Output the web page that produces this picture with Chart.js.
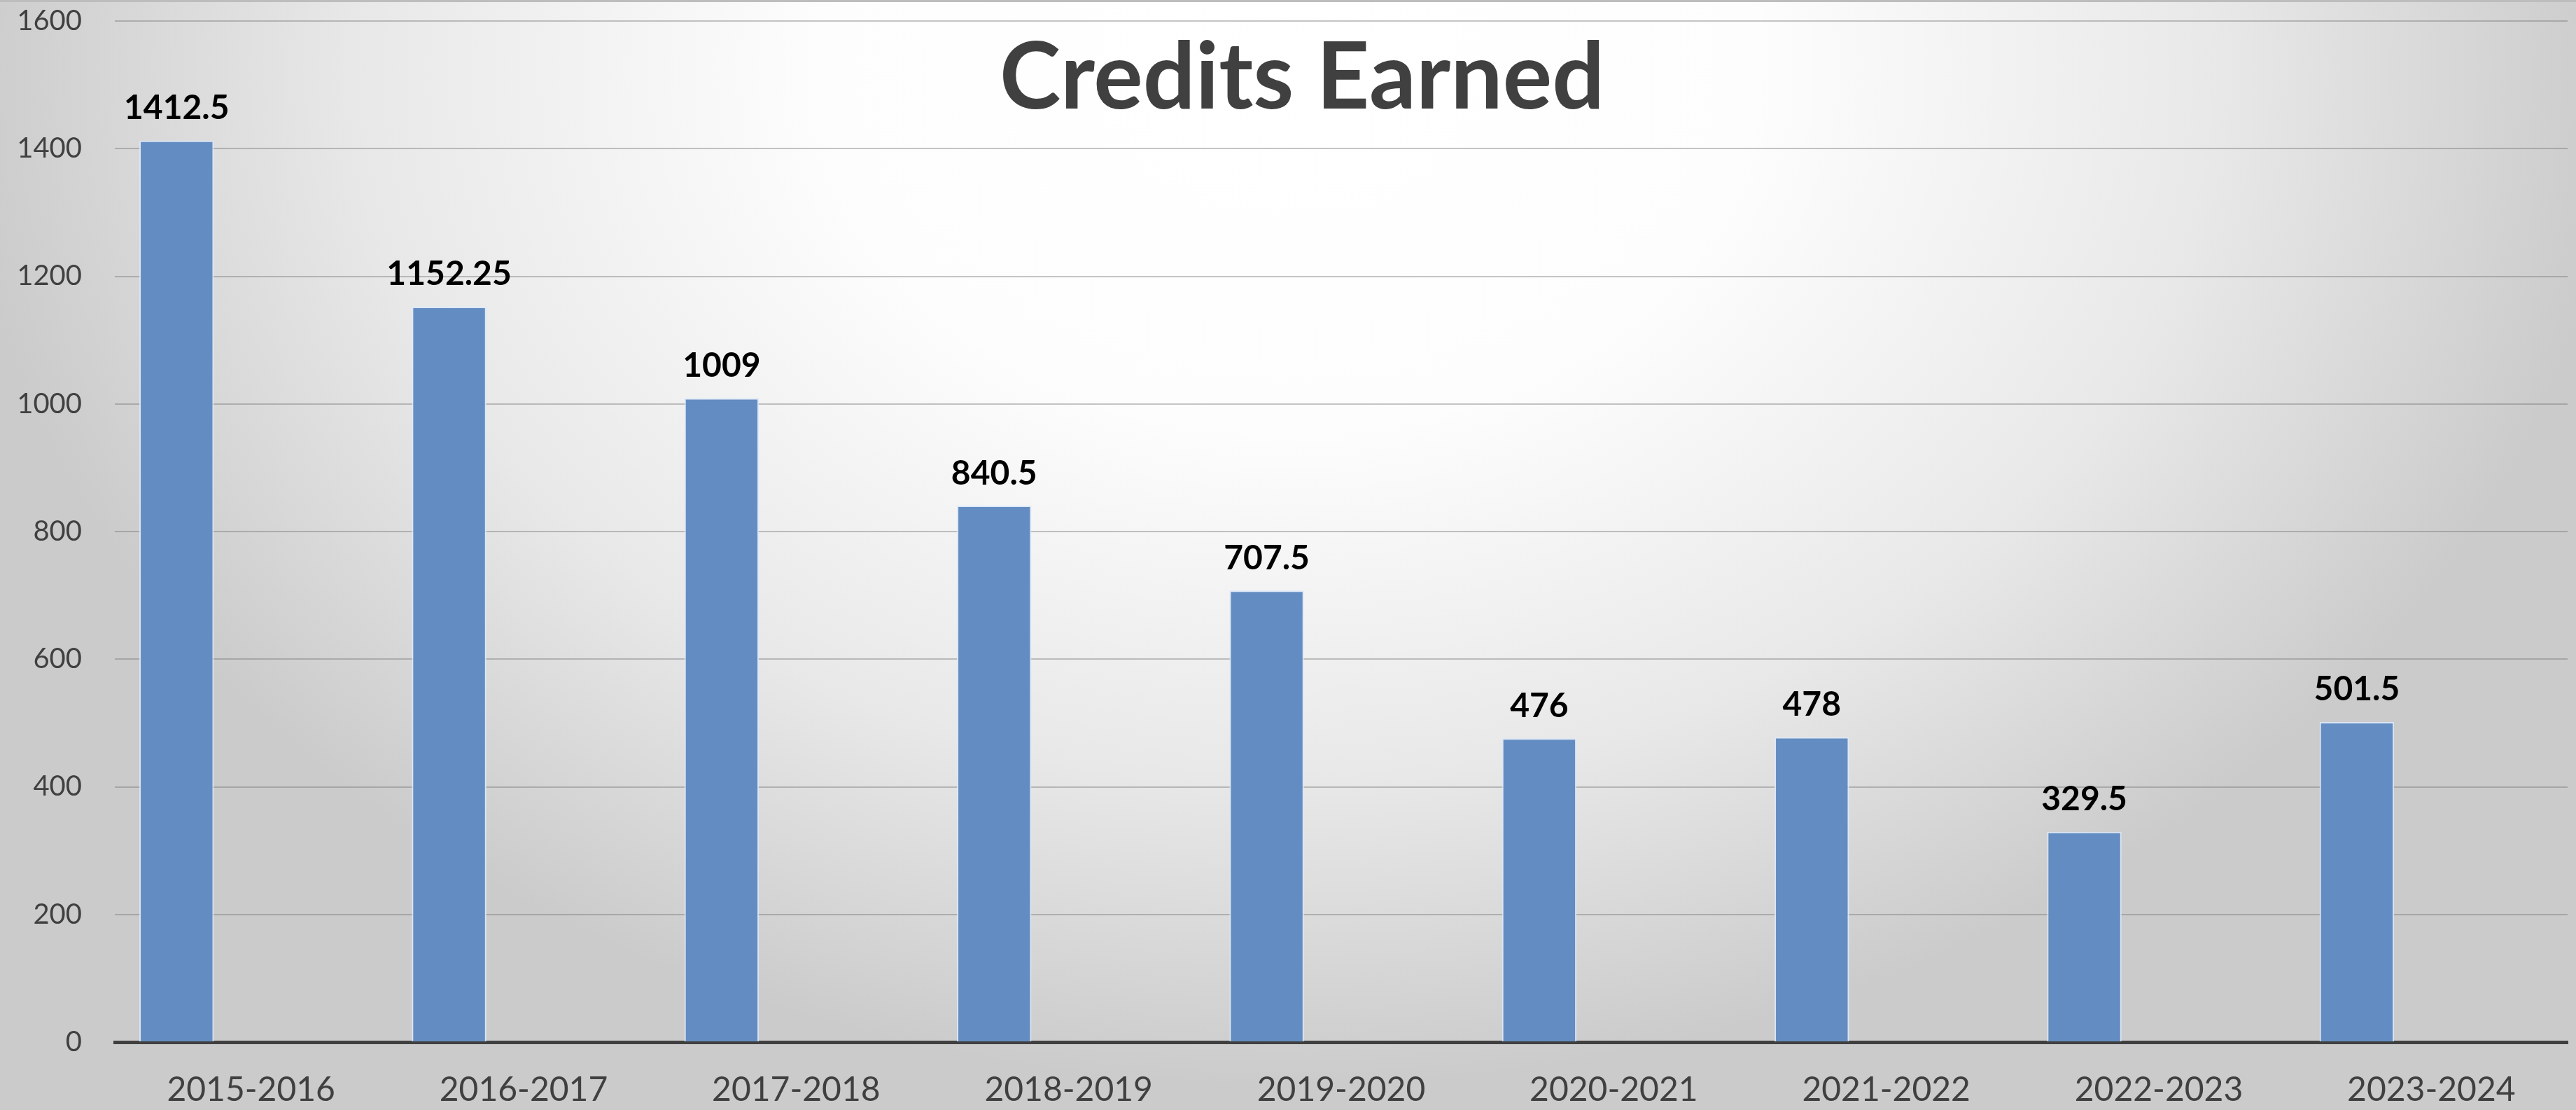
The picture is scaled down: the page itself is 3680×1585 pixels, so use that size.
<!DOCTYPE html>
<html>
<head>
<meta charset="utf-8">
<title>Credits Earned</title>
<script src="https://cdn.jsdelivr.net/npm/chart.js@4.4.1/dist/chart.umd.min.js"></script>
<style>
  html, body { margin: 0; padding: 0; background: #d0d0d0; }
  #wrap { width: 3680px; height: 1585px; }
</style>
</head>
<body>
<div id="wrap"><canvas id="creditsChart" width="3680" height="1585"></canvas></div>
<script>
// Data
const categories = ['2015-2016', '2016-2017', '2017-2018', '2018-2019', '2019-2020',
                    '2020-2021', '2021-2022', '2022-2023', '2023-2024'];
const credits = [1412.5, 1152.25, 1009, 840.5, 707.5, 476, 478, 329.5, 501.5];
// two empty series in the original sheet, they only reserve space in each group
const emptyA = [];
const emptyB = [];
const yTicks = [0, 200, 400, 600, 800, 1000, 1200, 1400, 1600];

const titleText = 'Credits Earned';
const fontFamily = 'Lato, "Open Sans", sans-serif';

// Background gradient + top border
const backgroundPlugin = {
  id: 'bg',
  beforeDraw(chart) {
    const ctx = chart.ctx;
    const w = chart.width, h = chart.height;
    const cx = 1840, cy = 100, rx = 1900, ry = 1450;
    ctx.save();
    ctx.translate(cx, cy);
    ctx.scale(1, ry / rx);
    const g = ctx.createRadialGradient(0, 0, 0, 0, 0, rx);
    g.addColorStop(0, '#ffffff');
    g.addColorStop(0.35, '#fdfdfd');
    g.addColorStop(0.7, '#e8e8e8');
    g.addColorStop(1, '#cbcbcb');
    ctx.fillStyle = g;
    ctx.fillRect(-cx, -cy * rx / ry, w, h * rx / ry);
    ctx.restore();

    ctx.save();
    ctx.strokeStyle = '#bdbdbd';
    ctx.lineWidth = 3;
    ctx.beginPath();
    ctx.moveTo(0, 1.5);
    ctx.lineTo(w, 1.5);
    ctx.stroke();
    ctx.restore();
  }
};

// Title drawn over the plot area like in the spreadsheet
const titlePlugin = {
  id: 'overTitle',
  afterDraw(chart) {
    const ctx = chart.ctx;
    ctx.save();
    ctx.font = 'bold 132px ' + fontFamily;
    ctx.fillStyle = '#404040';
    ctx.textAlign = 'center';
    ctx.textBaseline = 'middle';
    ctx.fillText(titleText, 1860, 112);
    ctx.restore();
  }
};

// Value labels above bars
const valueLabels = {
  id: 'valueLabels',
  afterDatasetsDraw(chart) {
    const ctx = chart.ctx;
    const meta = chart.getDatasetMeta(0);
    ctx.save();
    ctx.font = 'bold 48px ' + fontFamily;
    ctx.fillStyle = '#000000';
    ctx.textAlign = 'center';
    ctx.textBaseline = 'bottom';
    meta.data.forEach((bar, i) => {
      ctx.fillText(String(credits[i]), bar.x, bar.y - 22);
    });
    ctx.restore();
  }
};

new Chart(document.getElementById('creditsChart'), {
  type: 'bar',
  data: {
    labels: categories,
    datasets: [
      {
        label: 'Credits',
        data: credits,
        backgroundColor: '#638dc2',
        borderColor: 'rgba(220,232,248,0.9)',
        borderWidth: 2,
        categoryPercentage: 0.82,
        barPercentage: 1
      },
      { label: 'A', data: emptyA, categoryPercentage: 0.82, barPercentage: 1 },
      { label: 'B', data: emptyB, categoryPercentage: 0.82, barPercentage: 1 }
    ]
  },
  options: {
    responsive: false,
    animation: false,
    devicePixelRatio: 1,
    layout: { padding: { left: 0, right: 12, top: 30, bottom: 0 } },
    plugins: {
      legend: { display: false },
      tooltip: { enabled: false },
      title: { display: false }
    },
    scales: {
      x: {
        grid: { display: false, drawTicks: false },
        border: { display: true, color: '#404040', width: 5 },
        ticks: {
          color: '#404040',
          font: { family: fontFamily, size: 48 },
          padding: 40,
          maxRotation: 0
        },
        afterFit(scale) { scale.height = 97; }
      },
      y: {
        min: 0,
        max: 1600,
        afterBuildTicks(scale) { scale.ticks = yTicks.map(v => ({ value: v })); },
        grid: {
          color: 'rgba(110,110,110,0.4)',
          lineWidth: 2,
          drawTicks: false
        },
        border: { display: false },
        ticks: {
          color: '#404040',
          font: { family: fontFamily, size: 40 },
          padding: 47,
          callback: (v) => String(v)
        },
        afterFit(scale) {
          scale.width = 164;
          scale.paddingTop = 0;
          scale.paddingBottom = 0;
        }
      }
    }
  },
  plugins: [backgroundPlugin, valueLabels, titlePlugin]
});
</script>
</body>
</html>
